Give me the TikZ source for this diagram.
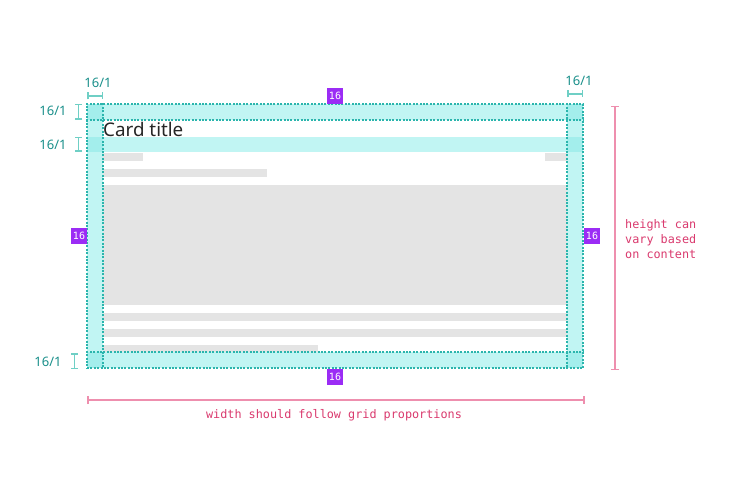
\documentclass[tikz,border=0pt]{standalone}
\usepackage{fontspec}
\setmainfont{Noto Sans}
\newfontfamily\monofont{DejaVu Sans Mono}
\usetikzlibrary{arrows.meta}
\definecolor{bandcyan}{HTML}{C1F5F3}
\definecolor{banddark}{HTML}{A3EEEC}
\definecolor{dashteal}{HTML}{2BB5AD}
\definecolor{barg}{HTML}{E4E4E4}
\definecolor{badgepurple}{HTML}{9B2CF5}
\definecolor{tealtext}{HTML}{198F8A}
\definecolor{tealbar}{HTML}{6FCFC5}
\definecolor{pinkline}{HTML}{EE8FAE}
\definecolor{pinktext}{HTML}{DA3A6E}
\tikzset{
  bar/.style={fill=barg, draw=none},
  band/.style={fill=bandcyan, draw=none},
  bandx/.style={fill=banddark, draw=none},
  dashline/.style={draw=dashteal, line width=1.1pt, dash pattern=on 2pt off 1.4pt},
  badge/.style={fill=badgepurple, minimum size=16pt, inner sep=0pt, text=white,
    font=\monofont\fontsize{10}{10}\selectfont},
  dimlabel/.style={text=tealtext, inner sep=0pt, font=\fontsize{13}{14}\selectfont},
  ibar/.style={draw=tealbar, line width=1.5pt, {Bar[width=7pt]}-{Bar[width=7pt]}},
  pinkdim/.style={draw=pinkline, line width=1.5pt, {Bar[width=8pt]}-{Bar[width=8pt]}},
  pinklabel/.style={text=pinktext, inner sep=0pt, font=\monofont\fontsize{11.8}{15}\selectfont},
}
\begin{document}
\begin{tikzpicture}[x=1pt,y=-1pt]
\fill[white] (0,0) rectangle (736,494);
\useasboundingbox (0,0) rectangle (736,494);
% card content bars
\fill[bar] (103,153) rectangle (143,161);
\fill[bar] (545,153) rectangle (567,161);
\fill[bar] (103,169) rectangle (267,177);
\fill[bar] (103,185) rectangle (567,305);
\fill[bar] (103,313) rectangle (567,321);
\fill[bar] (103,329) rectangle (567,337);
\fill[bar] (103,345) rectangle (318,352);
% padding bands
\fill[band] (87,104) rectangle (583,120);
\fill[band] (87,352) rectangle (583,368);
\fill[band] (87,104) rectangle (103,368);
\fill[band] (567,104) rectangle (583,368);
\fill[band] (87,137) rectangle (583,152);
\fill[bandx] (87,104) rectangle (103,120);
\fill[bandx] (567,104) rectangle (583,120);
\fill[bandx] (87,352) rectangle (103,368);
\fill[bandx] (567,352) rectangle (583,368);
\fill[bandx] (87,137) rectangle (103,152);
\fill[bandx] (567,137) rectangle (583,152);
% card outline and padding guides
\node[dashline, minimum width=496pt, minimum height=264pt, inner sep=0pt] (card) at (335,236) {};
\draw[dashline] (card.north west |- 0,120) -- (card.north east |- 0,120);
\draw[dashline] (card.north west |- 0,352) -- (card.north east |- 0,352);
\draw[dashline] (card.north west -| 103,0) -- (card.south west -| 103,0);
\draw[dashline] (card.north west -| 567,0) -- (card.south west -| 567,0);
% title
\node[anchor=base west, inner sep=0pt, text=black!85, font=\fontsize{18.8}{20}\selectfont] (title) at (103,137) {Card title};
% badges
\node[badge] (btop) at (335,96) {16};
\node[badge] (bbot) at (335,377) {16};
\node[badge] (bleft) at (79,236) {16};
\node[badge] (bright) at (592,236) {16};
% teal dimension markers
\node[dimlabel] (ltl) at (98,83) {16/1};
\coordinate (a1) at (87,96); \coordinate (a2) at (103,96);
\draw[ibar] (a1) -- (a2);
\node[dimlabel] (ltr) at (579,80.5) {16/1};
\coordinate (b1) at (567,94); \coordinate (b2) at (583,94);
\draw[ibar] (b1) -- (b2);
\node[dimlabel] (ll1) at (53,111) {16/1};
\coordinate (c1) at (78.5,104); \coordinate (c2) at (78.5,120);
\draw[ibar] (c1) -- (c2);
\node[dimlabel] (ll2) at (53,145) {16/1};
\coordinate (d1) at (78.5,137); \coordinate (d2) at (78.5,152);
\draw[ibar] (d1) -- (d2);
\node[dimlabel] (ll3) at (48,361.5) {16/1};
\coordinate (e1) at (74.5,353); \coordinate (e2) at (74.5,369);
\draw[ibar] (e1) -- (e2);
% pink dimensions
\coordinate (h1) at (615,106); \coordinate (h2) at (615,370);
\draw[pinkdim] (h1) -- (h2);
\node[pinklabel, anchor=base west] (ht1) at (625,228.3) {height can};
\node[pinklabel, anchor=base west] (ht2) at (625,243.3) {vary based};
\node[pinklabel, anchor=base west] (ht3) at (625,258.3) {on content};
\coordinate (w1) at (87,400); \coordinate (w2) at (584.5,400);
\draw[pinkdim] (w1) -- (w2);
\node[pinklabel, anchor=base] (wt) at (334,418.5) {width should follow grid proportions};
\end{tikzpicture}
\end{document}
